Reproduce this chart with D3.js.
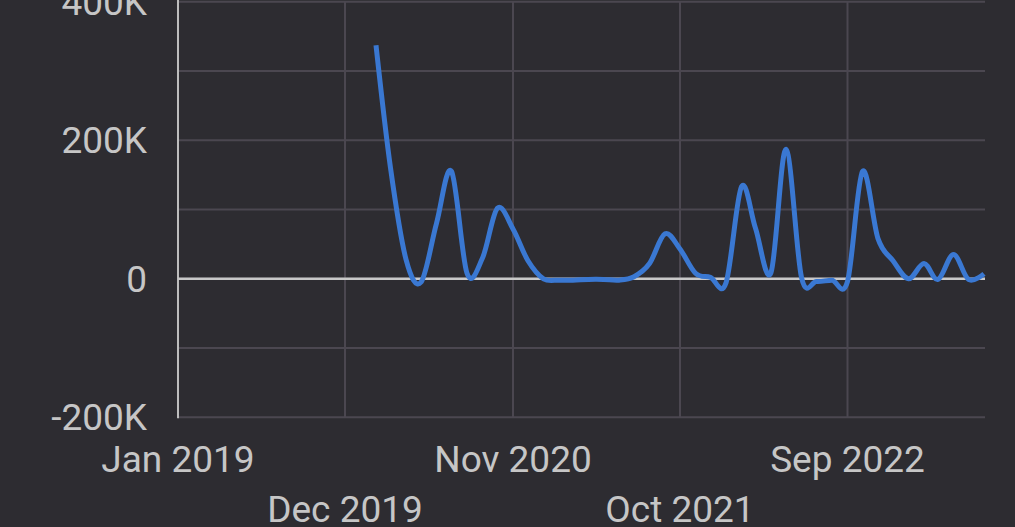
<!DOCTYPE html>
<html lang="en">
<head>
<meta charset="utf-8">
<script src="https://cdn.jsdelivr.net/npm/d3@7"></script>
<style>
html, body { margin: 0; padding: 0; background: #2d2c31; }
svg { display: block; }
.tick-label { font-family: Roboto, sans-serif; font-size: 37px; fill: #c6c6c6; }
</style>
</head>
<body>
<div id="chart"></div>
<script>
var width = 1015, height = 527;

// monthly values, Feb 2020 .. Jun 2023 (in thousands)
var months = [
    "2020-02", "2020-03", "2020-04", "2020-05", "2020-06", "2020-07", "2020-08",
    "2020-09", "2020-10", "2020-11", "2020-12", "2021-01", "2021-02", "2021-03",
    "2021-04", "2021-05", "2021-06", "2021-07", "2021-08", "2021-09", "2021-10",
    "2021-11", "2021-12", "2022-01", "2022-02", "2022-03", "2022-04", "2022-05",
    "2022-06", "2022-07", "2022-08", "2022-09", "2022-10", "2022-11", "2022-12",
    "2023-01", "2023-02", "2023-03", "2023-04", "2023-05", "2023-06"
];
var values = [
    337, 160, 28, -5, 80, 155, 8,
    30, 102, 72, 26, 0, -2, -2,
    -1, -1, -2, 3, 22, 65, 43,
    8, 2, -6, 133, 73, 9, 187,
    2, -4, -2, -4, 155, 58, 26,
    0, 22, -1, 35, -1, 7
];

var xTicks = ["2019-01", "2019-12", "2020-11", "2021-10", "2022-09"];
var yTicks = [-200000, 0, 200000, 400000];
var yGrid = [-200000, -100000, 0, 100000, 200000, 300000, 400000];

var parseMonth = d3.timeParse("%Y-%m");
var data = months.map(function (m, i) {
    return { date: parseMonth(m), value: values[i] * 1000 };
});

var x = d3.scaleTime()
    .domain([new Date(2019, 0, 1), new Date(2023, 5, 3)])
    .range([178, 985]);

var y = d3.scaleLinear()
    .domain([-200000, 400000])
    .range([417.3, 1.7]);

var svg = d3.select("#chart")
    .append("svg")
    .attr("width", width)
    .attr("height", height);

svg.append("rect")
    .attr("width", width)
    .attr("height", height)
    .attr("fill", "#2d2c31");

// horizontal grid
svg.append("g")
    .selectAll("line")
    .data(yGrid)
    .enter()
    .append("line")
    .attr("x1", 178)
    .attr("x2", 985)
    .attr("y1", function (d) { return y(d); })
    .attr("y2", function (d) { return y(d); })
    .attr("stroke", "#4b4750")
    .attr("stroke-width", 2);

// vertical grid
svg.append("g")
    .selectAll("line")
    .data(xTicks.slice(1))
    .enter()
    .append("line")
    .attr("x1", function (d) { return x(parseMonth(d)); })
    .attr("x2", function (d) { return x(parseMonth(d)); })
    .attr("y1", y(400000))
    .attr("y2", y(-200000))
    .attr("stroke", "#4b4750")
    .attr("stroke-width", 2);

// y axis line and zero line
svg.append("line")
    .attr("x1", 178).attr("x2", 178)
    .attr("y1", 0).attr("y2", y(-200000) + 1)
    .attr("stroke", "#bdbdbd")
    .attr("stroke-width", 2);

svg.append("line")
    .attr("x1", 178).attr("x2", 985)
    .attr("y1", y(0)).attr("y2", y(0))
    .attr("stroke", "#c8c8c8")
    .attr("stroke-width", 2.5);

// y labels
svg.append("g")
    .selectAll("text")
    .data(yTicks)
    .enter()
    .append("text")
    .attr("class", "tick-label")
    .attr("x", 147)
    .attr("y", function (d) { return y(d); })
    .attr("dy", "0.35em")
    .attr("text-anchor", "end")
    .text(function (d) { return d === 0 ? "0" : (d / 1000) + "K"; });

// x labels, staggered in two rows
var fmt = d3.timeFormat("%b %Y");
svg.append("g")
    .selectAll("text")
    .data(xTicks)
    .enter()
    .append("text")
    .attr("class", "tick-label")
    .attr("x", function (d) { return x(parseMonth(d)); })
    .attr("y", function (d, i) { return i % 2 === 0 ? 459 : 509; })
    .attr("dy", "0.35em")
    .attr("text-anchor", "middle")
    .text(function (d) { return fmt(parseMonth(d)); });

var line = d3.line()
    .x(function (d) { return x(d.date); })
    .y(function (d) { return y(d.value); })
    .curve(d3.curveCardinal.tension(0));

svg.append("path")
    .datum(data)
    .attr("fill", "none")
    .attr("stroke", "#3a78d2")
    .attr("stroke-width", 5)
    .attr("stroke-linejoin", "round")
    .attr("d", line);
</script>
</body>
</html>
